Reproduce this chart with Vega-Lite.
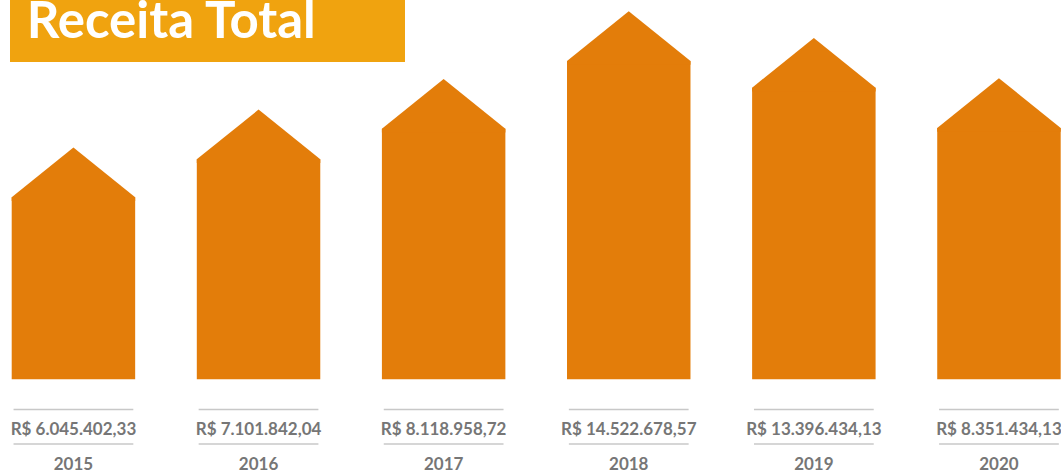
{
  "$schema": "https://vega.github.io/schema/vega-lite/v6.json",
  "width": 1049,
  "height": 472,
  "autosize": "none",
  "padding": {"left": 11.7, "top": 0, "right": 0, "bottom": 0},
  "background": "white",
  "config": {
    "view": {"stroke": null}
  },
  "data": {
    "values": [
      {"ano": "2015", "receita": "R$ 6.045.402,33", "nivel": 182},
      {"ano": "2016", "receita": "R$ 7.101.842,04", "nivel": 220},
      {"ano": "2017", "receita": "R$ 8.118.958,72", "nivel": 250.6},
      {"ano": "2018", "receita": "R$ 14.522.678,57", "nivel": 318.3},
      {"ano": "2019", "receita": "R$ 13.396.434,13", "nivel": 291.6},
      {"ano": "2020", "receita": "R$ 8.351.434,13", "nivel": 251.3}
    ]
  },
  "layer": [
    {
      "mark": {"type": "bar", "color": "#E37D0A"},
      "encoding": {
        "x": {"field": "ano", "type": "nominal", "scale": {"paddingInner": 0.333, "paddingOuter": 0}, "axis": null},
        "y": {"field": "nivel", "type": "quantitative", "scale": {"domain": [-92.7, 379.3], "nice": false, "zero": false}, "axis": null}
      }
    },
    {
      "mark": {"type": "point", "shape": "M-1,0.06L-1,0L0,-0.805L1,0L1,0.06Z", "size": 15252, "filled": true, "opacity": 1, "strokeWidth": 0, "color": "#E37D0A"},
      "encoding": {
        "x": {"field": "ano", "type": "nominal"},
        "y": {"field": "nivel", "type": "quantitative"}
      }
    },
    {
      "mark": {"type": "bar", "color": "#C8C8C8", "width": {"band": 0.97}},
      "encoding": {
        "x": {"field": "ano", "type": "nominal"},
        "y": {"datum": -29.4, "type": "quantitative"},
        "y2": {"datum": -30.9}
      }
    },
    {
      "mark": {"type": "bar", "color": "#C8C8C8", "width": {"band": 0.97}},
      "encoding": {
        "x": {"field": "ano", "type": "nominal"},
        "y": {"datum": -64, "type": "quantitative"},
        "y2": {"datum": -65.5}
      }
    },
    {
      "mark": {"type": "text", "font": "Lato", "fontSize": 17, "fontWeight": "bold", "color": "#767676", "baseline": "alphabetic"},
      "encoding": {
        "x": {"field": "ano", "type": "nominal"},
        "y": {"datum": -55.7, "type": "quantitative"},
        "text": {"field": "receita", "type": "nominal"}
      }
    },
    {
      "mark": {"type": "text", "font": "Lato", "fontSize": 17, "fontWeight": "bold", "color": "#767676", "baseline": "alphabetic"},
      "encoding": {
        "x": {"field": "ano", "type": "nominal"},
        "y": {"datum": -91.2, "type": "quantitative"},
        "text": {"field": "ano", "type": "nominal"}
      }
    },
    {
      "data": {"values": [{"titulo": "Receita Total"}]},
      "layer": [
        {
          "mark": {"type": "rect", "color": "#F0A30F"},
          "encoding": {
            "x": {"value": -1.7},
            "x2": {"value": 393.3},
            "y": {"datum": 379.3, "type": "quantitative"},
            "y2": {"datum": 317.3}
          }
        },
        {
          "mark": {"type": "text", "font": "Lato", "fontSize": 51, "fontWeight": "bold", "color": "white", "align": "left", "baseline": "alphabetic"},
          "encoding": {
            "x": {"value": 15},
            "y": {"datum": 341.8, "type": "quantitative"},
            "text": {"field": "titulo", "type": "nominal"}
          }
        }
      ]
    }
  ]
}
